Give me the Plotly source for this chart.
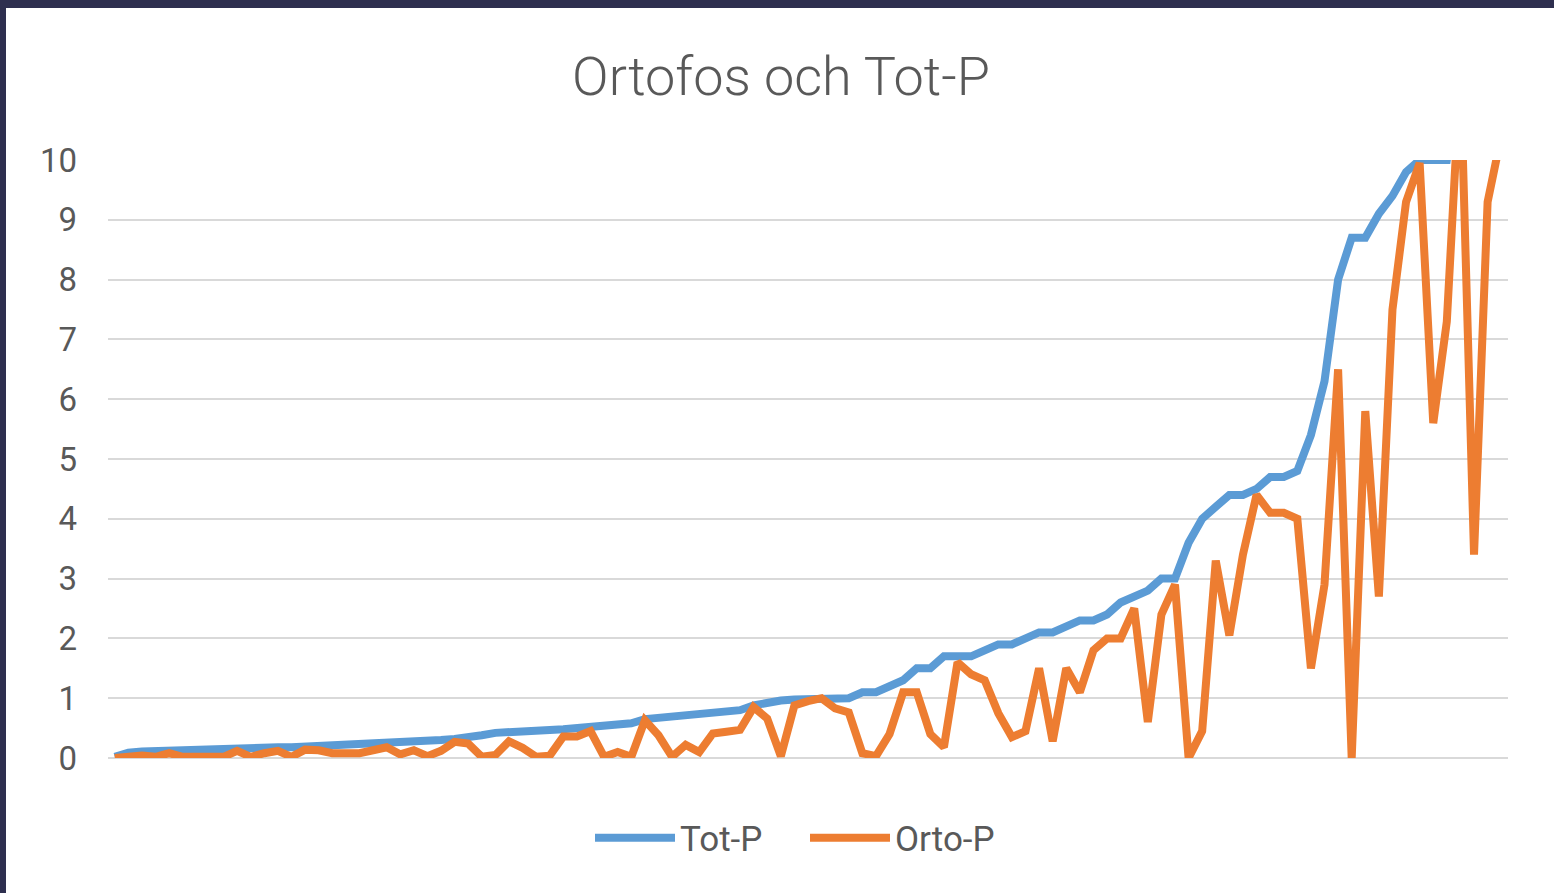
import plotly.graph_objects as go

samples = list(range(1, 104))

tot_p = [0.02, 0.09, 0.11, 0.12, 0.13, 0.13, 0.13, 0.13, 0.16, 0.16,
         0.16, 0.18, 0.18, 0.18, 0.19, 0.19, 0.20, 0.20, 0.21, 0.23,
         0.25, 0.27, 0.28, 0.29, 0.30, 0.32, 0.34, 0.38, 0.42, 0.44,
         0.45, 0.45, 0.47, 0.48, 0.50, 0.55, 0.57, 0.58, 0.58, 0.65,
         0.67, 0.68, 0.73, 0.73, 0.75, 0.77, 0.80, 0.88, 0.93, 0.96,
         0.98, 0.98, 0.98, 0.99, 1.00, 1.10, 1.10, 1.20, 1.30, 1.50,
         1.50, 1.70, 1.70, 1.70, 1.80, 1.90, 1.90, 2.00, 2.10, 2.10,
         2.20, 2.30, 2.30, 2.40, 2.60, 2.70, 2.80, 3.00, 3.00, 3.60,
         4.00, 4.20, 4.40, 4.40, 4.50, 4.70, 4.70, 4.80, 5.40, 6.30,
         8.00, 8.70, 8.70, 9.10, 9.40, 9.80, 10.0, 10.0, 10.0, 11.5,
         13.0, 15.0, 18.0]

orto_p = [0.00, 0.02, 0.04, 0.02, 0.08, 0.02, 0.02, 0.02, 0.02, 0.12,
          0.02, 0.08, 0.12, 0.02, 0.14, 0.13, 0.08, 0.08, 0.08, 0.13,
          0.18, 0.06, 0.13, 0.03, 0.12, 0.27, 0.24, 0.02, 0.05, 0.28,
          0.17, 0.02, 0.04, 0.36, 0.36, 0.45, 0.02, 0.10, 0.02, 0.63,
          0.38, 0.02, 0.22, 0.10, 0.41, 0.44, 0.47, 0.85, 0.66, 0.03,
          0.88, 0.95, 1.00, 0.83, 0.76, 0.08, 0.03, 0.40, 1.10, 1.10,
          0.40, 0.18, 1.60, 1.40, 1.30, 0.75, 0.35, 0.45, 1.50, 0.28,
          1.50, 1.10, 1.80, 2.00, 2.00, 2.50, 0.60, 2.40, 2.90, 0.00,
          0.45, 3.30, 2.05, 3.40, 4.40, 4.10, 4.10, 4.00, 1.50, 2.90,
          6.50, 0.00, 5.80, 2.70, 7.50, 9.30, 9.95, 5.60, 7.30, 11.5,
          3.40, 9.30, 10.4]

y_ticks = list(range(0, 11))

TEXT = "#595959"
GRID = "#D9D9D9"
FONT = "Roboto"

fig = go.Figure()
fig.add_trace(go.Scatter(x=samples, y=tot_p, mode="lines", name="Tot-P",
                         line=dict(color="#5B9BD5", width=8)))
fig.add_trace(go.Scatter(x=samples, y=orto_p, mode="lines", name="Orto-P",
                         line=dict(color="#ED7D31", width=8)))

W, H = 1554, 893
L, R, T, B = 108, 46, 160, 135
pw, ph = W - L - R, H - T - B

def px_x(px):
    return (px - L) / pw

def px_y(py):
    return (H - B - py) / ph

fig.update_layout(
    width=W, height=H,
    margin=dict(l=L, r=R, t=T, b=B),
    paper_bgcolor="white", plot_bgcolor="white",
    font=dict(family=FONT, color=TEXT, size=33),
    title=dict(text="Ortofos och Tot-P", x=px_x(781), xref="paper", xanchor="center",
               y=1 - 76 / H, yanchor="middle",
               font=dict(family=FONT, size=54, color=TEXT, weight=300)),
    xaxis=dict(range=[0.5, 103.5], showgrid=False, zeroline=False,
               showticklabels=False, ticks="", showline=False, fixedrange=True),
    yaxis=dict(range=[0, 10], tickvals=y_ticks, showgrid=True, gridcolor=GRID,
               gridwidth=1.5, zeroline=True, zerolinecolor=GRID, zerolinewidth=1.5,
               showline=False, ticks="", ticklabelstandoff=30,
               tickfont=dict(family=FONT, size=33, color=TEXT)),
    showlegend=True,
    legend=dict(orientation="h", x=px_x(805), xanchor="center", y=px_y(838),
                yanchor="middle", font=dict(family=FONT, size=35, color=TEXT),
                itemwidth=80, entrywidth=120, bgcolor="rgba(0,0,0,0)"),
    shapes=[
        dict(type="rect", xref="paper", yref="paper", x0=px_x(0), x1=px_x(W),
             y0=px_y(8), y1=px_y(0), fillcolor="#2e2f4f", line=dict(width=0),
             layer="below"),
        dict(type="rect", xref="paper", yref="paper", x0=px_x(0), x1=px_x(6),
             y0=px_y(H), y1=px_y(0), fillcolor="#2e2f4f", line=dict(width=0),
             layer="below"),
    ],
)

fig.write_html("out.html", post_script="document.body.style.margin='0';",
               config={"displayModeBar": False})
